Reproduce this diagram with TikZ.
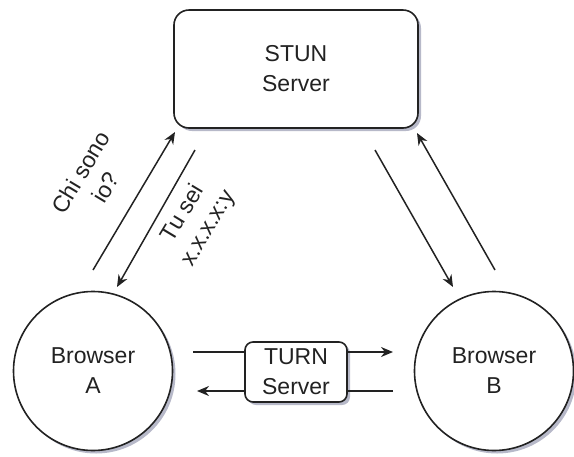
\documentclass[tikz,border=0pt]{standalone}
\usepackage{fontspec}
\setmainfont{Liberation Sans}
\usetikzlibrary{shadows,arrows.meta}
\definecolor{ink}{HTML}{222222}
\definecolor{shade}{HTML}{4A4F78}
\tikzset{
  boxshadow/.style={drop shadow={shadow xshift=3pt,shadow yshift=-3pt,opacity=0.4,fill=shade}},
  server/.style={draw=ink,line width=1.6pt,fill=white,rounded corners=#1,align=center,
    text=ink,font=\fontsize{23}{30}\selectfont,inner sep=0pt,boxshadow},
  browser/.style={circle,draw=ink,line width=1.6pt,fill=white,align=center,
    text=ink,font=\fontsize{23}{30}\selectfont,minimum size=159pt,inner sep=0pt,boxshadow},
  flow/.style={draw=ink,line width=1.5pt},
  flowarrow/.style={flow,-{Stealth[length=12pt,width=10pt]}},
  msg/.style={text=ink,font=\fontsize{23}{29}\selectfont,align=center,rotate=59}
}
\begin{document}
\begin{tikzpicture}[x=1pt,y=-1pt]
\useasboundingbox (0,0) rectangle (574,456);

% the three parties
\node[server=15pt,minimum width=244pt,minimum height=118pt] (stun) at (296,69) {STUN\\Server};
\node[browser] (bA) at (93,371) {Browser\\A};
\node[browser] (bB) at (494,371) {Browser\\B};
\node[server=8pt,minimum width=102pt,minimum height=60pt] (turn) at (296,372) {TURN\\Server};

% ends of the STUN exchanges
\coordinate (a1s) at (93,270);  \coordinate (a1e) at (175,132);
\coordinate (a2s) at (195,150); \coordinate (a2e) at (117,287);
\coordinate (b1s) at (375,150); \coordinate (b1e) at (453,287);
\coordinate (b2s) at (495,270); \coordinate (b2e) at (417,133);

\draw[flowarrow] (a1s) -- (a1e);
\draw[flowarrow] (a2s) -- (a2e);
\draw[flowarrow] (b1s) -- (b1e);
\draw[flowarrow] (b2s) -- (b2e);

% relayed traffic through TURN
\coordinate (r1s) at (193,352); \coordinate (r1e) at (393,352);
\coordinate (r2s) at (393,391); \coordinate (r2e) at (197,391);
\draw[flow] (r1s) -- (r1s -| turn.west);
\draw[flowarrow] (r1s -| turn.east) -- (r1e);
\draw[flow] (r2s) -- (r2s -| turn.east);
\draw[flowarrow] (r2s -| turn.west) -- (r2e);

% message labels
\node[msg] (ask) at (93,180) {Chi sono\\io?};
\node[msg] (answer) at (196,221) {Tu sei\\x.x.x.x:y};
\end{tikzpicture}
\end{document}
